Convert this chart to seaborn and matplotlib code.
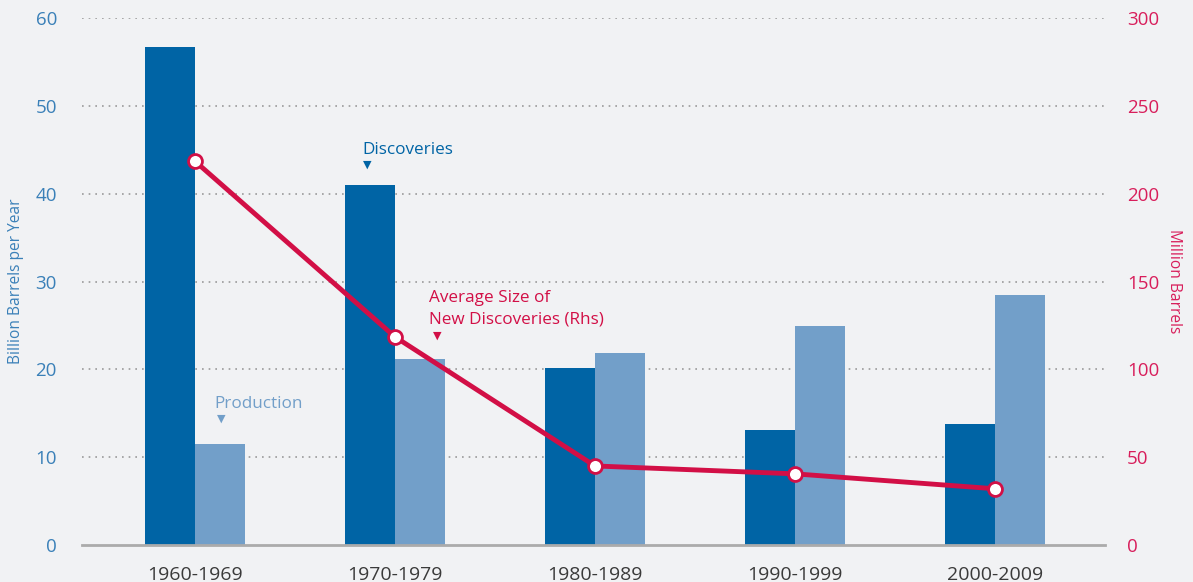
import numpy as np
import pandas as pd
import seaborn as sns
import matplotlib.pyplot as plt

# data
decades = ["1960-1969", "1970-1979", "1980-1989", "1990-1999", "2000-2009"]
discoveries = [56.7, 41.0, 20.2, 13.1, 13.8]      # billion barrels per year
production = [11.5, 21.2, 21.9, 24.9, 28.5]       # billion barrels per year
avg_size = [218.5, 118.5, 45.0, 40.5, 32.0]       # million barrels (rhs)

bg = "#F1F2F4"
c_disc = "#0064A5"
c_prod = "#729FC9"
c_line = "#D20F46"
c_left = "#3A80B8"
c_right = "#D81E5B"

sns.set_style("white")
plt.rcParams["font.family"] = ["Open Sans", "DejaVu Sans"]

df = pd.DataFrame({"decade": decades * 2,
                   "value": discoveries + production,
                   "series": ["Discoveries"] * 5 + ["Production"] * 5})

fig = plt.figure(figsize=(11.93, 5.82), dpi=100, facecolor=bg)
ax = fig.add_axes([0.0687, 0.0636, 0.8575, 0.9054])
ax.set_facecolor(bg)

sns.barplot(data=df, x="decade", y="value", hue="series", ax=ax,
            palette=[c_disc, c_prod], width=0.5, saturation=1,
            linewidth=0, legend=False, zorder=3)

ax.set_xlim(-0.565, 4.55)
ax.set_ylim(0, 60)
ax.set_yticks(range(0, 61, 10))
for y in range(10, 61, 10):
    ax.axhline(y, color="#9A9A9A", lw=1.2, ls=(0, (1, 3)), zorder=1)

for s in ["top", "right", "left"]:
    ax.spines[s].set_visible(False)
ax.spines["bottom"].set_color("#ABABAB")
ax.spines["bottom"].set_linewidth(2)
ax.spines["bottom"].set_zorder(4)

ax.tick_params(axis="x", length=0, pad=15, labelsize=14, labelcolor="#3A3A3A")
ax.tick_params(axis="y", length=0, pad=18, labelsize=13.5, labelcolor=c_left)
ax.set_xlabel("")
ax.set_ylabel("Billion Barrels per Year", color=c_left, fontsize=11.2, labelpad=8)

ax2 = ax.twinx()
ax2.set_ylim(0, 300)
ax2.set_yticks(range(0, 301, 50))
sns.lineplot(x=np.arange(len(decades)), y=avg_size, ax=ax2, color=c_line,
             lw=3.5, marker="o", markersize=10, markerfacecolor="white",
             markeredgecolor=c_line, markeredgewidth=2, zorder=5)
for s in ax2.spines.values():
    s.set_visible(False)
ax2.tick_params(axis="y", length=0, pad=16, labelsize=13.5, labelcolor=c_right)
ax2.set_ylabel("Million Barrels", color=c_right, fontsize=11.2,
               rotation=270, labelpad=16)

# inline labels
ax.text(0.835, 45.0, "Discoveries", color=c_disc, fontsize=12.3, ha="left", va="center")
ax.text(0.86, 43.2, "▼", color=c_disc, fontsize=8, ha="center", va="center")
ax.text(0.095, 16.1, "Production", color=c_prod, fontsize=12.3, ha="left", va="center")
ax.text(0.13, 14.3, "▼", color=c_prod, fontsize=8, ha="center", va="center")
ax.text(1.17, 26.9, "Average Size of\nNew Discoveries (Rhs)", color=c_line,
        fontsize=12.3, ha="left", va="center", linespacing=1.45)
ax.text(1.21, 23.8, "▼", color=c_line, fontsize=8, ha="center", va="center")

fig.savefig("out.png", dpi=100, facecolor=bg)
